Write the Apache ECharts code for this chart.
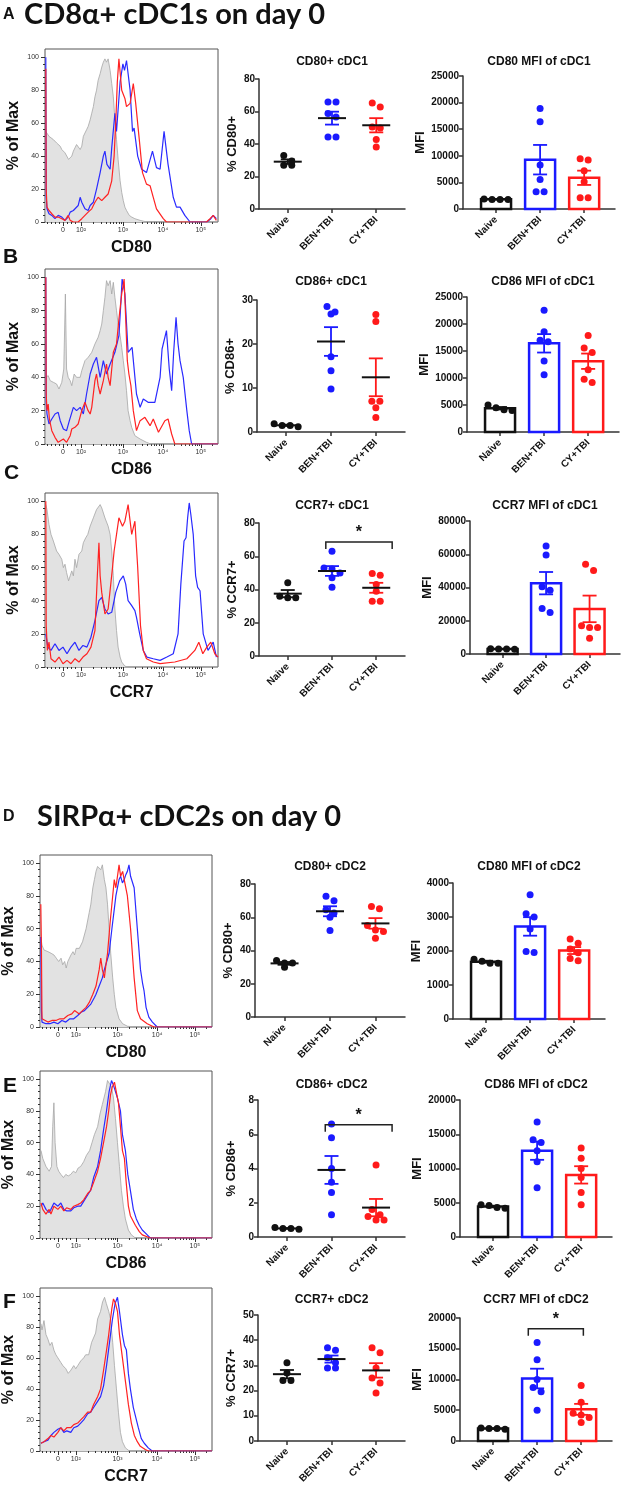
<!DOCTYPE html>
<html>
<head>
<meta charset="utf-8">
<script src="https://cdn.jsdelivr.net/npm/echarts@6.0.0/dist/echarts.min.js"></script>
<style>
html,body{margin:0;padding:0;background:#fff;}
#chart{width:624px;height:1486px;}
</style>
</head>
<body>
<div id="chart"></div>
<script>
// ================= DATA =================
const groups = ['Naive', 'BEN+TBI', 'CY+TBI'];

// flow histogram axis (decade units of the biexponential display)
const histTickPos = [1.5, 1.95, 3, 4, 4.95];
const histTickLabels = ['0', '10²', '10³', '10⁴', '10⁵'];
const histPctTicks = [0, 20, 40, 60, 80, 100];

// ---- histograms: [fluorescence (decade units), % of max] ----
const histCD80_cDC1_grey = [[1.07,55],[1.11,54],[1.15,52],[1.20,53],[1.26,50],[1.30,49],[1.34,48],[1.38,47],[1.43,46],[1.47,44],[1.51,43],[1.55,42],[1.59,43],[1.64,38],[1.68,37],[1.72,40],[1.76,43],[1.80,45],[1.84,47],[1.88,48],[1.93,44],[1.97,46],[2.01,52],[2.05,54],[2.09,56],[2.13,58],[2.18,62],[2.22,66],[2.26,70],[2.30,76],[2.34,80],[2.38,86],[2.43,90],[2.47,94],[2.51,97],[2.55,99],[2.59,97],[2.63,99],[2.68,92],[2.72,84],[2.76,76],[2.80,62],[2.84,50],[2.88,38],[2.93,25],[2.97,18],[3.01,13],[3.05,9],[3.09,7],[3.16,4],[3.22,3],[3.30,2],[3.43,1],[3.6,0],[5.38,0]];
const histCD80_cDC1_red = [[1.07,93],[1.08,20],[1.10,9],[1.15,7],[1.22,5],[1.30,3],[1.38,3],[1.47,2],[1.55,1],[1.63,4],[1.68,1],[1.76,0],[1.88,0],[1.97,2],[2.05,4],[2.13,6],[2.22,8],[2.30,12],[2.38,15],[2.47,13],[2.55,15],[2.63,17],[2.72,25],[2.78,40],[2.82,60],[2.86,85],[2.90,99],[2.97,80],[3.05,75],[3.09,70],[3.18,72],[3.26,84],[3.32,72],[3.41,50],[3.49,30],[3.59,23],[3.68,22],[3.76,15],[3.84,8],[4.01,2],[4.09,0],[5.09,0],[5.18,2],[5.26,4],[5.34,1]];
const histCD80_cDC1_blue = [[1.07,100],[1.08,15],[1.10,8],[1.15,5],[1.22,4],[1.30,2],[1.38,4],[1.43,5],[1.47,3],[1.55,1],[1.63,3],[1.68,6],[1.76,7],[1.80,6],[1.88,10],[1.93,15],[1.97,12],[2.05,8],[2.13,7],[2.18,10],[2.26,12],[2.34,20],[2.43,30],[2.51,40],[2.55,43],[2.60,35],[2.68,32],[2.72,45],[2.80,66],[2.84,55],[2.93,85],[3.00,96],[3.04,92],[3.09,98],[3.18,80],[3.24,55],[3.28,57],[3.37,40],[3.47,32],[3.59,30],[3.63,31],[3.74,43],[3.84,33],[3.93,32],[4.03,55],[4.13,35],[4.26,15],[4.34,9],[4.43,9],[4.55,4],[4.68,0],[5.1,0],[5.2,2],[5.26,4],[5.34,2]];

const histCD86_cDC1_grey = [[1.07,40],[1.13,41],[1.18,38],[1.26,37],[1.34,36],[1.40,33],[1.47,37],[1.52,45],[1.56,90],[1.59,45],[1.63,40],[1.68,38],[1.72,35],[1.78,42],[1.84,40],[1.93,40],[1.97,44],[2.05,50],[2.13,52],[2.22,55],[2.30,60],[2.38,64],[2.43,68],[2.47,72],[2.51,80],[2.55,88],[2.59,98],[2.63,95],[2.68,98],[2.72,90],[2.76,97],[2.80,88],[2.84,80],[2.88,72],[2.93,65],[2.97,58],[3.01,50],[3.05,42],[3.09,32],[3.13,20],[3.18,14],[3.22,10],[3.30,5],[3.43,3],[3.59,1],[3.7,0],[5.38,0]];
const histCD86_cDC1_red = [[1.07,100],[1.08,30],[1.10,20],[1.13,24],[1.16,15],[1.22,8],[1.30,4],[1.38,1],[1.43,0],[1.51,3],[1.59,1],[1.68,5],[1.72,9],[1.80,10],[1.88,12],[1.97,20],[2.05,25],[2.13,20],[2.18,18],[2.22,22],[2.30,38],[2.34,42],[2.38,35],[2.43,30],[2.51,38],[2.59,48],[2.63,40],[2.68,35],[2.72,45],[2.76,55],[2.84,60],[2.90,75],[2.97,90],[3.03,99],[3.07,75],[3.11,50],[3.15,42],[3.20,35],[3.26,20],[3.34,8],[3.43,14],[3.55,16],[3.68,11],[3.76,15],[3.89,7],[4.05,14],[4.13,15],[4.22,6],[4.30,0],[5.38,0]];
const histCD86_cDC1_blue = [[1.07,100],[1.08,25],[1.10,18],[1.15,12],[1.22,15],[1.30,18],[1.38,19],[1.43,14],[1.51,9],[1.59,8],[1.66,14],[1.76,22],[1.84,20],[1.93,22],[2.01,18],[2.09,30],[2.18,42],[2.26,48],[2.34,52],[2.43,40],[2.51,50],[2.59,42],[2.68,48],[2.80,55],[2.90,65],[2.95,85],[2.98,99],[3.05,90],[3.13,55],[3.23,58],[3.34,30],[3.43,22],[3.51,27],[3.63,25],[3.80,25],[3.93,40],[3.98,57],[4.03,56],[4.09,68],[4.16,45],[4.22,32],[4.27,55],[4.33,76],[4.38,60],[4.43,50],[4.51,40],[4.60,20],[4.66,8],[4.72,0],[5.38,0]];

const histCCR7_cDC1_grey = [[1.07,98],[1.10,95],[1.15,86],[1.20,80],[1.26,76],[1.30,75],[1.34,70],[1.40,68],[1.47,65],[1.51,60],[1.55,62],[1.59,57],[1.64,52],[1.68,55],[1.72,58],[1.76,55],[1.80,65],[1.84,60],[1.90,68],[1.97,70],[2.01,75],[2.07,78],[2.12,80],[2.18,85],[2.26,90],[2.34,95],[2.43,98],[2.47,96],[2.55,90],[2.63,85],[2.68,80],[2.72,70],[2.76,55],[2.80,35],[2.84,22],[2.88,12],[2.93,6],[2.97,3],[3.05,0.5],[3.13,0],[5.38,0]];
const histCCR7_cDC1_red = [[1.07,100],[1.08,25],[1.11,10],[1.15,15],[1.20,5],[1.30,3],[1.40,6],[1.50,2],[1.60,4],[1.70,2],[1.80,5],[1.90,3],[2.00,6],[2.10,8],[2.20,12],[2.30,22],[2.36,55],[2.40,75],[2.43,55],[2.47,45],[2.55,32],[2.63,35],[2.74,60],[2.78,70],[2.90,90],[2.99,85],[3.05,88],[3.13,98],[3.22,80],[3.30,88],[3.37,60],[3.44,25],[3.51,10],[3.59,5],[3.76,3],[3.93,2],[4.3,3],[4.6,5],[4.8,10],[4.9,15],[5.0,8],[5.1,12],[5.2,15],[5.3,8],[5.38,6]];
const histCCR7_cDC1_blue = [[1.07,20],[1.12,12],[1.20,10],[1.30,14],[1.40,10],[1.50,12],[1.60,8],[1.70,12],[1.80,15],[1.90,10],[2.00,13],[2.10,12],[2.20,18],[2.30,28],[2.40,40],[2.47,42],[2.55,35],[2.63,32],[2.72,33],[2.82,45],[2.92,52],[3.01,55],[3.07,50],[3.13,40],[3.22,37],[3.30,34],[3.34,30],[3.42,20],[3.51,10],[3.60,6],[3.76,5],[3.93,4],[4.10,6],[4.26,8],[4.38,20],[4.45,50],[4.53,76],[4.58,78],[4.62,90],[4.66,99],[4.70,92],[4.76,80],[4.82,55],[4.87,48],[4.93,46],[5.01,20],[5.13,10],[5.26,15],[5.34,6]];

const histCD80_cDC2_grey = [[1.07,55],[1.10,50],[1.15,47],[1.20,48],[1.25,46],[1.33,45],[1.40,44],[1.46,42],[1.52,40],[1.58,42],[1.62,38],[1.67,40],[1.71,36],[1.75,40],[1.83,44],[1.88,46],[1.92,44],[1.96,48],[2.04,48],[2.12,52],[2.21,60],[2.29,70],[2.33,75],[2.38,85],[2.42,90],[2.46,95],[2.50,98],[2.54,99],[2.58,96],[2.62,99],[2.67,90],[2.71,85],[2.75,75],[2.79,60],[2.83,45],[2.88,30],[2.92,20],[2.96,12],[3.04,5],[3.13,2],[3.25,0.5],[3.42,0],[5.38,0]];
const histCD80_cDC2_red = [[1.07,75],[1.085,50],[1.10,5],[1.15,4],[1.25,3],[1.35,4],[1.45,4],[1.55,5],[1.65,5],[1.75,7],[1.85,8],[1.92,10],[1.98,9],[2.04,8],[2.12,10],[2.21,12],[2.29,15],[2.38,20],[2.46,25],[2.54,35],[2.58,42],[2.62,35],[2.67,30],[2.71,38],[2.75,45],[2.82,65],[2.88,80],[2.92,90],[2.96,85],[3.00,92],[3.04,99],[3.08,92],[3.13,95],[3.17,90],[3.25,80],[3.33,60],[3.42,30],[3.50,10],[3.58,5],[3.75,2],[3.92,0],[5.38,0]];
const histCD80_cDC2_blue = [[1.07,55],[1.085,10],[1.10,3],[1.20,2],[1.30,2],[1.40,3],[1.50,2],[1.60,4],[1.70,3],[1.80,5],[1.90,5],[2.00,7],[2.08,9],[2.17,10],[2.25,12],[2.33,14],[2.42,18],[2.46,20],[2.54,25],[2.62,30],[2.67,35],[2.73,40],[2.79,45],[2.86,60],[2.92,72],[2.96,80],[3.04,90],[3.08,92],[3.125,88],[3.17,90],[3.21,93],[3.25,95],[3.29,99],[3.33,92],[3.42,85],[3.50,60],[3.58,35],[3.63,27],[3.67,22],[3.72,12],[3.79,6],[3.88,3],[4.0,0],[5.38,0]];

const histCD86_cDC2_grey = [[1.075,55],[1.12,50],[1.2,45],[1.28,42],[1.34,45],[1.37,70],[1.40,85],[1.43,60],[1.475,45],[1.52,42],[1.575,40],[1.64,38],[1.70,40],[1.76,39],[1.825,40],[1.89,42],[1.95,41],[2.01,44],[2.075,45],[2.15,48],[2.22,52],[2.30,55],[2.36,60],[2.42,65],[2.5,70],[2.56,78],[2.62,84],[2.65,85],[2.70,92],[2.75,99],[2.80,97],[2.85,95],[2.9,88],[2.95,75],[3.0,60],[3.05,45],[3.1,30],[3.15,20],[3.2,12],[3.275,5],[3.35,2],[3.45,0],[5.38,0]];
const histCD86_cDC2_red = [[1.075,22],[1.12,18],[1.2,15],[1.28,18],[1.325,15],[1.4,20],[1.5,18],[1.575,20],[1.65,17],[1.72,19],[1.825,18],[1.9,20],[2.0,21],[2.075,22],[2.15,24],[2.25,28],[2.325,30],[2.4,35],[2.5,42],[2.575,50],[2.65,60],[2.725,70],[2.78,80],[2.825,90],[2.87,95],[2.925,98],[2.97,92],[3.025,85],[3.075,70],[3.125,55],[3.175,50],[3.22,35],[3.275,20],[3.325,14],[3.45,8],[3.55,4],[3.625,2],[3.825,0],[5.38,0]];
const histCD86_cDC2_blue = [[1.075,20],[1.12,22],[1.2,18],[1.28,16],[1.325,18],[1.4,22],[1.5,20],[1.575,22],[1.65,18],[1.725,17],[1.825,17],[1.9,19],[2.0,20],[2.075,20],[2.15,23],[2.25,27],[2.325,30],[2.4,38],[2.5,45],[2.575,55],[2.65,68],[2.725,80],[2.79,92],[2.85,99],[2.9,96],[2.95,95],[3.0,88],[3.075,80],[3.125,65],[3.2,55],[3.26,40],[3.325,30],[3.4,18],[3.475,12],[3.55,8],[3.625,5],[3.75,2],[3.825,0],[5.38,0]];

const histCCR7_cDC2_grey = [[1.075,82],[1.1,78],[1.15,84],[1.2,75],[1.25,72],[1.3,68],[1.35,70],[1.4,65],[1.45,62],[1.5,60],[1.575,57],[1.625,55],[1.7,53],[1.76,50],[1.825,52],[1.9,55],[1.95,53],[2.0,55],[2.075,58],[2.15,60],[2.2,62],[2.275,62],[2.35,70],[2.45,76],[2.5,85],[2.575,90],[2.625,96],[2.675,99],[2.72,95],[2.78,90],[2.825,85],[2.88,70],[2.925,55],[2.975,40],[3.025,25],[3.075,12],[3.125,6],[3.2,2],[3.3,0],[5.38,0]];
const histCCR7_cDC2_red = [[1.075,5],[1.15,6],[1.25,8],[1.325,10],[1.4,9],[1.5,12],[1.575,15],[1.65,13],[1.725,15],[1.825,15],[1.9,17],[2.0,18],[2.075,20],[2.15,22],[2.25,25],[2.325,25],[2.4,30],[2.5,35],[2.575,40],[2.65,52],[2.725,65],[2.78,75],[2.825,85],[2.86,92],[2.9,98],[2.95,95],[3.0,90],[3.05,75],[3.125,60],[3.2,45],[3.275,30],[3.35,18],[3.425,10],[3.5,6],[3.575,3],[3.7,1],[3.775,0],[5.38,0]];
const histCCR7_cDC2_blue = [[1.075,5],[1.15,6],[1.25,7],[1.325,10],[1.4,12],[1.5,14],[1.575,15],[1.65,12],[1.725,13],[1.825,12],[1.9,15],[2.0,16],[2.075,18],[2.15,20],[2.25,24],[2.325,25],[2.4,28],[2.5,32],[2.575,35],[2.65,42],[2.725,55],[2.8,70],[2.875,85],[2.94,95],[3.0,99],[3.05,90],[3.125,75],[3.175,68],[3.225,65],[3.275,50],[3.325,40],[3.4,28],[3.525,15],[3.6,8],[3.675,5],[3.775,2],[3.875,0],[5.38,0]];

// ---- per-mouse values: [Naive, BEN+TBI, CY+TBI] ----
const pctCD80_cDC1 = [[33, 29.5, 27, 27], [65.8, 65.8, 58.7, 56.6, 44.3, 44.3], [65.2, 62.8, 50.5, 49.8, 42.7, 38.2]];
const mfiCD80_cDC1 = [[1800, 1800, 1800, 1900], [18900, 16400, 8250, 5560, 3250, 3250], [9440, 9190, 7190, 5125, 2125, 2125]];
const pctCD86_cDC1 = [[1.5, 1.2, 1.5, 1.9], [28.5, 27.3, 26.8, 17.1, 13.9, 9.8], [26.7, 25.1, 7.0, 7.0, 5.5, 3.3]];
const mfiCD86_cDC1 = [[4500, 4000, 4100, 5000], [22540, 18580, 16970, 16720, 13130, 10590], [17890, 15540, 14740, 11520, 9780, 9160]];
const pctCCR7_cDC1 = [[44, 36, 35, 35], [63, 52.4, 53, 50, 47, 41.4], [49.6, 48.6, 43, 39, 33, 33]];
const mfiCCR7_cDC1 = [[3000, 2800, 3200, 3000], [64950, 59600, 40400, 38400, 27300, 24950], [54000, 50300, 17000, 16000, 16000, 9500]];
const pctCD80_cDC2 = [[34, 32.5, 32.5, 30], [72.6, 70, 64.5, 62.5, 60, 52], [66.5, 65.1, 55, 52.4, 51.4, 47.4]];
const mfiCD80_cDC2 = [[1760, 1700, 1640, 1640], [3656, 3096, 2998, 2644, 1985, 1956], [2350, 2230, 2060, 1950, 1780, 1710]];
const pctCD86_cDC2 = [[0.5, 0.45, 0.5, 0.55], [6.6, 5.8, 4.0, 3.2, 2.6, 1.3], [4.2, 1.6, 1.3, 1.2, 1.0, 1.0]];
const mfiCD86_cDC2 = [[4600, 4300, 4200, 4700], [16800, 14200, 13800, 12600, 11000, 7200], [13000, 11500, 10000, 8700, 6500, 4700]];
const pctCCR7_cDC2 = [[31, 27, 24, 24], [37, 36, 33, 31, 29, 29], [37, 35, 29, 25, 23, 19]];
const mfiCCR7_cDC2 = [[2000, 1900, 2100, 2000], [16000, 13200, 10000, 8700, 8000, 5000], [9000, 6300, 4500, 4200, 3800, 3000]];

// ---- y tick labels ----
const pctTicks80 = [0, 20, 40, 60, 80];
const pctTicks30 = [0, 10, 20, 30];
const pctTicks8 = [0, 2, 4, 6, 8];
const pctTicks50 = [0, 10, 20, 30, 40, 50];
const mfiTicks25k = [0, 5000, 10000, 15000, 20000, 25000];
const mfiTicks80k = [0, 20000, 40000, 60000, 80000];
const mfiTicks4k = [0, 1000, 2000, 3000, 4000];
const mfiTicks20k = [0, 5000, 10000, 15000, 20000];

// ================= LAYOUT / STYLE =================
const FONT = '"Liberation Sans", Arial, sans-serif';
const groupColors = ['#111111', '#1a1aff', '#ff1a1a'];
const HIST_X = [1.05, 5.38];
const HIST_Y_MAX = 105;

const histMinor = (function () {
  const out = [1.1, 1.2, 1.3, 1.4, 1.6, 1.7, 1.8];
  const edges = [[1.95, 3], [3, 4], [4, 4.95], [4.95, 5.9]];
  edges.forEach(([a, b]) => { for (let k = 2; k <= 9; k++) { const p = a + (b - a) * Math.log10(k); if (p < HIST_X[1]) out.push(p); } });
  return out;
})();
const histYMinor = [];
for (let v = 4; v < 100; v += 4) if (v % 20) histYMinor.push(v);

const histPanels = [
  { g: histCD80_cDC1_grey, r: histCD80_cDC1_red, b: histCD80_cDC1_blue, name: 'CD80', box: [45, 49, 173, 173] },
  { g: histCD86_cDC1_grey, r: histCD86_cDC1_red, b: histCD86_cDC1_blue, name: 'CD86', box: [45, 269, 173, 175] },
  { g: histCCR7_cDC1_grey, r: histCCR7_cDC1_red, b: histCCR7_cDC1_blue, name: 'CCR7', box: [45, 493, 173, 174] },
  { g: histCD80_cDC2_grey, r: histCD80_cDC2_red, b: histCD80_cDC2_blue, name: 'CD80', box: [39, 855, 173, 172] },
  { g: histCD86_cDC2_grey, r: histCD86_cDC2_red, b: histCD86_cDC2_blue, name: 'CD86', box: [39, 1071, 173, 167] },
  { g: histCCR7_cDC2_grey, r: histCCR7_cDC2_red, b: histCCR7_cDC2_blue, name: 'CCR7', box: [39, 1288, 173, 170] }
];
const dotPanels = [
  { title: 'CD80+ cDC1', yName: '% CD80+', data: pctCD80_cDC1, ticks: pctTicks80, box: [259, 79, 146, 130], titleY: 62 },
  { title: 'CD86+ cDC1', yName: '% CD86+', data: pctCD86_cDC1, ticks: pctTicks30, box: [257, 300, 148, 132], titleY: 282 },
  { title: 'CCR7+ cDC1', yName: '% CCR7+', data: pctCCR7_cDC1, ticks: pctTicks80, box: [259, 523, 146, 133], titleY: 506, sig: { from: 1.86, to: 3.36, y: 68.6 } },
  { title: 'CD80+ cDC2', yName: '% CD80+', data: pctCD80_cDC2, ticks: pctTicks80, box: [255, 884, 150, 133], titleY: 867 },
  { title: 'CD86+ cDC2', yName: '% CD86+', data: pctCD86_cDC2, ticks: pctTicks8, box: [258, 1100, 147, 137], titleY: 1085, sig: { from: 1.86, to: 3.36, y: 6.55 } },
  { title: 'CCR7+ cDC2', yName: '% CCR7+', data: pctCCR7_cDC2, ticks: pctTicks50, box: [258, 1315, 147, 140], titleY: 1300 }
];
const barPanels = [
  { title: 'CD80 MFI of cDC1', data: mfiCD80_cDC1, ticks: mfiTicks25k, box: [463, 76, 152, 133], titleY: 62 },
  { title: 'CD86 MFI of cDC1', data: mfiCD86_cDC1, ticks: mfiTicks25k, box: [467, 297, 152, 135], titleY: 282 },
  { title: 'CCR7 MFI of cDC1', data: mfiCCR7_cDC1, ticks: mfiTicks80k, box: [470, 521, 150, 133], titleY: 506 },
  { title: 'CD80 MFI of cDC2', data: mfiCD80_cDC2, ticks: mfiTicks4k, box: [453, 883, 152, 136], titleY: 867 },
  { title: 'CD86 MFI of cDC2', data: mfiCD86_cDC2, ticks: mfiTicks20k, box: [460, 1100, 152, 137], titleY: 1085 },
  { title: 'CCR7 MFI of cDC2', data: mfiCCR7_cDC2, ticks: mfiTicks20k, box: [460, 1318, 152, 137], titleY: 1300, sig: { from: 1.8, to: 3.05, y: 18250 } }
];
const headings = [
  { text: 'A', x: 3, y: 15, font: 'bold 16px ' + FONT },
  { text: 'CD8α+ cDC1s on day 0', x: 24, y: 15, font: 'bold 29px Lato, "Open Sans", sans-serif' },
  { text: 'B', x: 3, y: 257, font: 'bold 21px ' + FONT },
  { text: 'C', x: 4, y: 473, font: 'bold 21px ' + FONT },
  { text: 'D', x: 3, y: 817, font: 'bold 16px ' + FONT },
  { text: 'SIRPα+ cDC2s on day 0', x: 37, y: 817, font: 'bold 29px Lato, "Open Sans", sans-serif' },
  { text: 'E', x: 3, y: 1086, font: 'bold 21px ' + FONT },
  { text: 'F', x: 3, y: 1302, font: 'bold 21px ' + FONT }
];

// ================= BUILD =================
const grids = [], xAxes = [], yAxes = [], series = [], graphics = [];

function txt(text, x, y, font, align, vAlign) {
  graphics.push({ type: 'text', x: x, y: y, silent: true, style: { text: text, font: font, fill: '#111', align: align || 'left', textAlign: align || 'left', verticalAlign: vAlign || 'middle', textVerticalAlign: vAlign || 'middle' } });
}
function meanSem(a) {
  const n = a.length, m = a.reduce((s, v) => s + v, 0) / n;
  const sd = Math.sqrt(a.reduce((s, v) => s + (v - m) * (v - m), 0) / (n - 1));
  return [m, sd / Math.sqrt(n)];
}
function swarm(vals, pxPerUnit) {
  const order = vals.map((v, i) => i).sort((a, b) => vals[b] - vals[a]);
  const rows = [];
  order.forEach(i => {
    const r = rows[rows.length - 1];
    if (r && Math.abs(vals[r[0]] - vals[i]) * pxPerUnit < 6.5) r.push(i); else rows.push([i]);
  });
  const off = new Array(vals.length).fill(0);
  rows.forEach(r => r.forEach((i, k) => { off[i] = (k - (r.length - 1) / 2) * 8; }));
  return off;
}
function addGrid(box, extra) {
  grids.push(Object.assign({ left: box[0], top: box[1], width: box[2], height: box[3], containLabel: false }, extra || {}));
  return grids.length - 1;
}

// ----- histograms -----
histPanels.forEach(p => {
  const gi = addGrid(p.box, { show: true, borderColor: '#555', borderWidth: 1, backgroundColor: 'rgba(0,0,0,0)' });
  const xi = xAxes.length, yi = yAxes.length;
  const xb = { gridIndex: gi, type: 'value', position: 'bottom', min: HIST_X[0], max: HIST_X[1], axisLine: { show: false, onZero: false }, splitLine: { show: false } };
  xAxes.push(Object.assign({}, xb, {
    axisTick: { show: true, customValues: histTickPos, length: 4, lineStyle: { color: '#333', width: 1 } },
    axisLabel: { show: true, customValues: histTickPos, fontSize: 7, color: '#333', margin: 5, fontFamily: FONT,
      formatter: v => histTickLabels[histTickPos.findIndex(t => Math.abs(t - v) < 1e-6)] },
    name: p.name, nameLocation: 'middle', nameGap: 18,
    nameTextStyle: { fontSize: 16, fontWeight: 'bold', color: '#111', fontFamily: FONT }
  }));
  xAxes.push(Object.assign({}, xb, {
    axisTick: { show: true, customValues: histMinor, length: 2, lineStyle: { color: '#333', width: 1 } },
    axisLabel: { show: false }
  }));
  const yb = { gridIndex: gi, type: 'value', position: 'left', min: 0, max: HIST_Y_MAX, axisLine: { show: false, onZero: false }, splitLine: { show: false } };
  yAxes.push(Object.assign({}, yb, {
    axisTick: { show: true, customValues: histPctTicks, length: 4, lineStyle: { color: '#333', width: 1 } },
    axisLabel: { show: true, customValues: histPctTicks, fontSize: 7, color: '#333', margin: 6, fontFamily: FONT },
    name: '% of Max', nameLocation: 'middle', nameGap: 23,
    nameTextStyle: { fontSize: 16, fontWeight: 'bold', color: '#111', fontFamily: FONT }
  }));
  yAxes.push(Object.assign({}, yb, {
    axisTick: { show: true, customValues: histYMinor, length: 2, lineStyle: { color: '#333', width: 1 } },
    axisLabel: { show: false }
  }));
  const base = { type: 'line', xAxisIndex: xi, yAxisIndex: yi, showSymbol: false, symbol: 'none', smooth: false, animation: false };
  series.push(Object.assign({}, base, { data: p.g, z: 1, lineStyle: { color: '#a6a6a6', width: 0.8 }, areaStyle: { color: '#e2e2e2', opacity: 1 } }));
  series.push(Object.assign({}, base, { data: p.r, z: 3, lineStyle: { color: '#ff2222', width: 1.2 } }));
  series.push(Object.assign({}, base, { data: p.b, z: 2, lineStyle: { color: '#2a2aff', width: 1.2 } }));
});

// ----- shared axes for dot / bar panels -----
function addCatAxes(p, xMin, xMax, yName, nameGap) {
  const gi = addGrid(p.box);
  const t = p.ticks;
  xAxes.push({
    gridIndex: gi, type: 'value', position: 'bottom', min: xMin, max: xMax, splitLine: { show: false },
    axisLine: { show: true, onZero: false, lineStyle: { color: '#333', width: 1.5 } },
    axisTick: { show: true, customValues: [1, 2, 3], length: 4, lineStyle: { color: '#333', width: 1.5 } },
    axisLabel: { show: true, customValues: [1, 2, 3], rotate: 45, margin: 9, fontSize: 10, fontWeight: 'bold', color: '#111', fontFamily: FONT,
      formatter: v => groups[Math.round(v) - 1] }
  });
  yAxes.push({
    gridIndex: gi, type: 'value', position: 'left', min: t[0], max: t[t.length - 1], interval: t[1] - t[0], splitLine: { show: false },
    axisLine: { show: true, onZero: false, lineStyle: { color: '#333', width: 1.5 } },
    axisTick: { show: true, length: 4, lineStyle: { color: '#333', width: 1.5 } },
    axisLabel: { fontSize: 10, fontWeight: 'bold', color: '#111', margin: 4, fontFamily: FONT, formatter: v => String(v) },
    name: yName, nameLocation: 'middle', nameGap: nameGap,
    nameTextStyle: { fontSize: 13, fontWeight: 'bold', color: '#111', fontFamily: FONT }
  });
  txt(p.title, p.box[0] + p.box[2] / 2, p.titleY, 'bold 12px ' + FONT, 'center', 'middle');
  return [xAxes.length - 1, yAxes.length - 1];
}
function addScatter(p, xi, yi) {
  const t = p.ticks;
  const ppu = p.box[3] / (t[t.length - 1] - t[0]);
  p.data.forEach((vals, gi) => {
    const off = swarm(vals, ppu);
    series.push({
      type: 'scatter', xAxisIndex: xi, yAxisIndex: yi, symbol: 'circle', symbolSize: 7, z: 3, animation: false,
      itemStyle: { color: groupColors[gi], opacity: 1 },
      data: vals.map((v, i) => ({ value: [gi + 1, v], symbolOffset: [off[i], 0] }))
    });
  });
}
function addSig(p, xi, yi) {
  if (!p.sig) return;
  series.push({
    type: 'custom', xAxisIndex: xi, yAxisIndex: yi, z: 5, animation: false, silent: true,
    data: [[p.sig.from, p.sig.to, p.sig.y]],
    renderItem: (params, api) => {
      const a = api.coord([api.value(0), api.value(2)]), b = api.coord([api.value(1), api.value(2)]);
      return { type: 'group', children: [
        { type: 'polyline', shape: { points: [[a[0], a[1] + 7], [a[0], a[1]], [b[0], b[1]], [b[0], b[1] + 7]] }, style: { stroke: '#222', lineWidth: 1.5, fill: null } },
        { type: 'text', x: (a[0] + b[0]) / 2, y: a[1] - 1, style: { text: '*', font: 'bold 16px ' + FONT, fill: '#111', align: 'center', textAlign: 'center', verticalAlign: 'bottom', textVerticalAlign: 'bottom' } }
      ] };
    }
  });
}

// ----- dot plots (mean ± SEM) -----
dotPanels.forEach(p => {
  const [xi, yi] = addCatAxes(p, 0.35, 3.65, p.yName, 20);
  addScatter(p, xi, yi);
  series.push({
    type: 'custom', xAxisIndex: xi, yAxisIndex: yi, z: 4, animation: false, silent: true,
    data: p.data.map((vals, gi) => { const ms = meanSem(vals); return [gi + 1, ms[0], ms[1], gi]; }),
    renderItem: (params, api) => {
      const x = api.value(0), m = api.value(1), s = api.value(2), col = groupColors[api.value(3)];
      const c = api.coord([x, m]), t = api.coord([x, m + s]), b = api.coord([x, m - s]);
      const st = { stroke: col, lineWidth: 1.8 };
      return { type: 'group', children: [
        { type: 'line', shape: { x1: t[0], y1: t[1], x2: b[0], y2: b[1] }, style: st },
        { type: 'line', shape: { x1: t[0] - 7, y1: t[1], x2: t[0] + 7, y2: t[1] }, style: st },
        { type: 'line', shape: { x1: b[0] - 7, y1: b[1], x2: b[0] + 7, y2: b[1] }, style: st },
        { type: 'line', shape: { x1: c[0] - 14, y1: c[1], x2: c[0] + 14, y2: c[1] }, style: { stroke: '#111', lineWidth: 2 } }
      ] };
    }
  });
  addSig(p, xi, yi);
});

// ----- bar charts (mean ± SEM with points) -----
barPanels.forEach(p => {
  const t = p.ticks;
  const gap = String(t[t.length - 1]).length >= 5 ? 31 : 26;
  const [xi, yi] = addCatAxes(p, 0.25, 3.7, 'MFI', gap);
  series.push({
    type: 'custom', xAxisIndex: xi, yAxisIndex: yi, z: 2, animation: false, silent: true,
    data: p.data.map((vals, gi) => { const ms = meanSem(vals); return [gi + 1, ms[0], ms[1], gi]; }),
    renderItem: (params, api) => {
      const x = api.value(0), m = api.value(1), col = groupColors[api.value(3)];
      const c = api.coord([x, m]), z0 = api.coord([x, 0]);
      return { type: 'rect', shape: { x: c[0] - 15, y: c[1], width: 30, height: z0[1] - c[1] }, style: { fill: '#fff', stroke: col, lineWidth: 2.5 } };
    }
  });
  addScatter(p, xi, yi);
  series.push({
    type: 'custom', xAxisIndex: xi, yAxisIndex: yi, z: 4, animation: false, silent: true,
    data: p.data.map((vals, gi) => { const ms = meanSem(vals); return [gi + 1, ms[0], ms[1], gi]; }),
    renderItem: (params, api) => {
      const x = api.value(0), m = api.value(1), s = api.value(2), col = groupColors[api.value(3)];
      const t2 = api.coord([x, m + s]), b = api.coord([x, m - s]);
      const st = { stroke: col, lineWidth: 1.8 };
      return { type: 'group', children: [
        { type: 'line', shape: { x1: t2[0], y1: t2[1], x2: b[0], y2: b[1] }, style: st },
        { type: 'line', shape: { x1: t2[0] - 7, y1: t2[1], x2: t2[0] + 7, y2: t2[1] }, style: st },
        { type: 'line', shape: { x1: b[0] - 7, y1: b[1], x2: b[0] + 7, y2: b[1] }, style: st }
      ] };
    }
  });
  addSig(p, xi, yi);
});

headings.forEach(h => txt(h.text, h.x, h.y, h.font, 'left', 'middle'));

const chart = echarts.init(document.getElementById('chart'), null, { renderer: 'canvas' });
chart.setOption({
  animation: false,
  backgroundColor: '#fff',
  textStyle: { fontFamily: FONT },
  grid: grids, xAxis: xAxes, yAxis: yAxes, series: series,
  graphic: { elements: graphics }
});
</script>
</body>
</html>
